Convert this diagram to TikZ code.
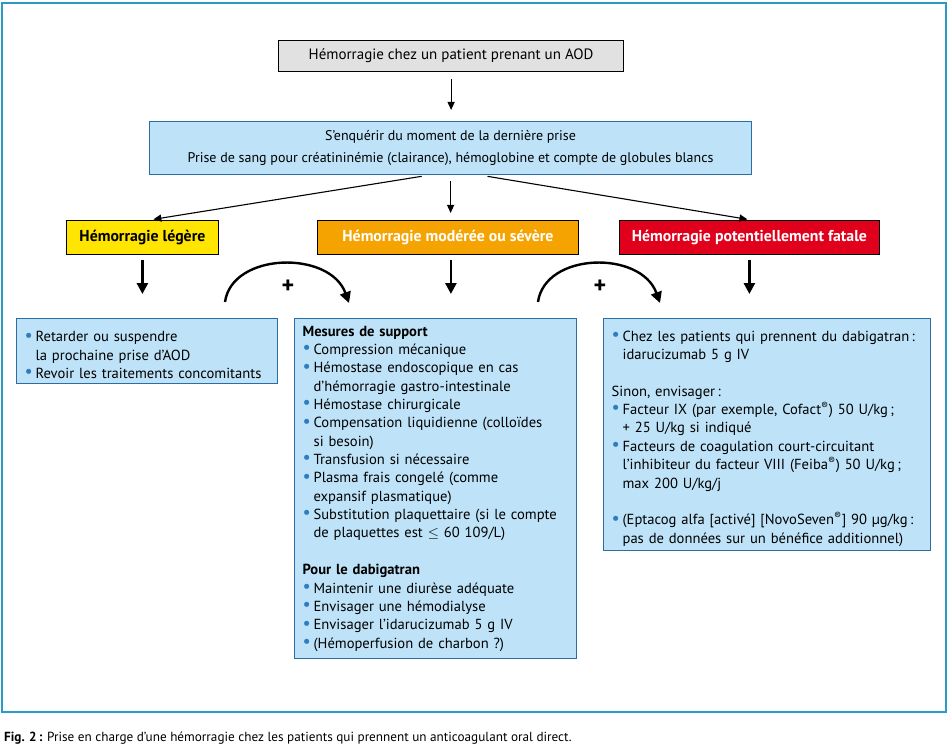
\documentclass[tikz,border=0pt]{standalone}
\usepackage{fontspec}
\setmainfont{PT Sans}
\usetikzlibrary{arrows.meta,positioning}

\definecolor{framecol}{HTML}{2A9BC4}
\definecolor{paleblue}{HTML}{BEE3F8}
\definecolor{boxedge}{HTML}{2E6DA4}
\definecolor{bulcol}{HTML}{2F7DC1}
\definecolor{sunyellow}{HTML}{FFE500}
\definecolor{amber}{HTML}{F5A300}
\definecolor{alertred}{HTML}{E0001B}
\definecolor{greybox}{HTML}{E1E1E1}

\hyphenpenalty=10000
\exhyphenpenalty=10000

\newcommand\bul{\textcolor{bulcol}{\raisebox{0.1ex}{\scalebox{1.25}{\textbullet}}}}
\newcommand\itm[1]{\par\hangindent=11pt\hangafter=1\noindent\makebox[11pt][l]{\bul}#1}
\newcommand\gap{\par\vspace{\baselineskip}}

\tikzset{
  headbox/.style={draw=black, line width=1.2pt, fill=greybox, anchor=north west,
    inner sep=0pt, align=center, font=\fontsize{15}{22}\selectfont},
  infobox/.style={draw=boxedge, line width=1.2pt, fill=paleblue, anchor=north west,
    inner sep=0pt, align=center, font=\fontsize{14}{22}\selectfont},
  gradebox/.style={draw=black, line width=0.8pt, anchor=north west, inner sep=0pt,
    font=\bfseries\fontsize{15.8}{18}\selectfont},
  listbox/.style={draw=boxedge, line width=1.2pt, fill=paleblue, anchor=north west,
    inner xsep=8pt, inner ysep=0pt, align=left, font=\fontsize{14.6}{18.35}\selectfont},
  thin/.style={-{Triangle[length=8pt,width=7pt]}, line width=1.1pt},
  thick/.style={-{Triangle[length=11pt,width=11pt]}, line width=2.6pt},
}

\begin{document}
\begin{tikzpicture}[x=1pt, y=-1pt]

  \useasboundingbox (0,0) rectangle (950,746);

  % Frame and caption
  \draw[framecol, line width=2pt] (2,3) rectangle (946,712);
  \node[anchor=west, inner sep=0pt, font=\fontsize{13.2}{15}\selectfont] (caption) at (4,738)
    {\textbf{Fig. 2\,:} Prise en charge d'une hémorragie chez les patients qui prennent un anticoagulant oral direct.};

  % Top of the chart
  \node[headbox, minimum width=345pt, minimum height=31pt] (start) at (278,40)
    {Hémorragie chez un patient prenant un AOD};
  \node[infobox, minimum width=602pt, minimum height=53pt] (info) at (149,121)
    {S'enquérir du moment de la dernière prise\\
     Prise de sang pour créatininémie (clairance), hémoglobine et compte de globules blancs};

  % Grades of bleeding
  \node[gradebox, fill=sunyellow, minimum width=152pt, minimum height=34pt] (mild) at (66,220)
    {Hémorragie légère};
  \node[gradebox, fill=amber, text=white, minimum width=261pt, minimum height=34pt] (moderate) at (317,220)
    {Hémorragie modérée ou sévère};
  \node[gradebox, fill=alertred, text=white, minimum width=260pt, minimum height=34pt] (fatal) at (619,220)
    {Hémorragie potentiellement fatale};

  % Measures
  \node[listbox, text width=245pt, minimum height=65pt] (mildlist) at (16,318)
    {\itm{Retarder ou suspendre\newline la prochaine prise d'AOD}
     \itm{Revoir les traitements concomitants}\par};

  \node[listbox, text width=266pt, minimum height=340pt] (modlist) at (294,318)
    {\noindent\textbf{Mesures de support}
     \itm{Compression mécanique}
     \itm{Hémostase endoscopique en cas\newline d'hémorragie gastro-intestinale}
     \itm{Hémostase chirurgicale}
     \itm{Compensation liquidienne (colloïdes\newline si besoin)}
     \itm{Transfusion si nécessaire}
     \itm{Plasma frais congelé (comme\newline expansif plasmatique)}
     \itm{Substitution plaquettaire (si le compte\newline de plaquettes est $\leq$ 60 109/L)}
     \gap
     \noindent\textbf{Pour le dabigatran}
     \itm{Maintenir une diurèse adéquate}
     \itm{Envisager une hémodialyse}
     \itm{Envisager l'idarucizumab 5 g IV}
     \itm{(Hémoperfusion de charbon ?)}\par};

  \node[listbox, text width=311pt, minimum height=232pt] (fatallist) at (603,318)
    {\itm{Chez les patients qui prennent du dabigatran\,:\newline idarucizumab 5 g IV}
     \gap
     \noindent Sinon, envisager\,:
     \itm{Facteur IX (par exemple, Cofact\textsuperscript{®}) 50 U/kg\,;\newline + 25 U/kg si indiqué}
     \itm{Facteurs de coagulation court-circuitant\newline l'inhibiteur du facteur VIII (Feiba\textsuperscript{®}) 50 U/kg\,;\newline max 200 U/kg/j}
     \gap
     \itm{(Eptacog alfa [activé] [NovoSeven\textsuperscript{®}] 90~µg/kg\,:\newline pas de données sur un bénéfice additionnel)}\par};

  % Connections
  \draw[thin, shorten <=7pt, shorten >=11pt] (start) -- (start.south |- info.north);
  \draw[thin, shorten <=7pt, shorten >=4pt] ([xshift=-22pt]info.south) -- ([xshift=7pt]mild.north);
  \draw[thin, shorten <=6pt, shorten >=7pt] (info.south) -- (info.south |- moderate.north);
  \draw[thin, shorten <=7pt, shorten >=4pt] ([xshift=30pt]info.south) -- ([xshift=2pt]fatal.north);

  \draw[thick, shorten <=5pt, shorten >=24pt] (mild) -- (mild.south |- mildlist.north);
  \draw[thick, shorten <=5pt, shorten >=24pt] ([xshift=3pt]moderate.south) -- ([xshift=3pt]moderate.south |- modlist.north);
  \draw[thick, shorten <=5pt, shorten >=24pt] (fatal) -- (fatal.south |- fatallist.north);

  % Add-on arrows
  \coordinate (add1-from) at (225,302);
  \coordinate (add1-to)   at (349,303);
  \coordinate (add2-from) at (538,302);
  \coordinate (add2-to)   at (660,303);
  \draw[-{Triangle[length=11pt,width=11pt]}, line width=2.4pt]
    (add1-from) .. controls (232,252) and (330,250) .. (add1-to);
  \draw[-{Triangle[length=11pt,width=11pt]}, line width=2.4pt]
    (add2-from) .. controls (545,252) and (641,250) .. (add2-to);
  \node[font=\bfseries\fontsize{24}{24}\selectfont, inner sep=0pt] (plus1) at (288,287) {+};
  \node[font=\bfseries\fontsize{24}{24}\selectfont, inner sep=0pt] (plus2) at (600,287) {+};

\end{tikzpicture}
\end{document}
